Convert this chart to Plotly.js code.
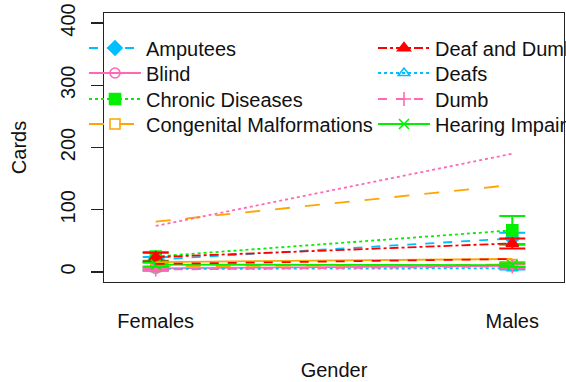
<!DOCTYPE html>
<html>
<head>
<meta charset="utf-8">
<script src="https://cdn.plot.ly/plotly-3.0.1.min.js"></script>
<style>
  html, body { margin: 0; padding: 0; overflow: hidden; background: #fff; }
  #chart { width: 620px; height: 382px; }
</style>
</head>
<body>
<div id="chart"></div>
<script>
// Mean number of cards per gender, one line per disability group
const genders = ['Females', 'Males'];

const groups = [
  'Amputees', 'Blind', 'Chronic Diseases', 'Congenital Malformations',
  'Deaf and Dumb', 'Deafs', 'Dumb', 'Hearing Impaired',
  'Mental Disabilities', 'Multiple Disabilities', 'Physical Disabilities', 'Visual Impairments'
];

const femaleCards = [20, 6, 25, 9, 24, 5, 4, 12, 16, 13, 81, 74];
const maleCards   = [54, 10, 67, 12, 46, 6, 9, 11, 21, 21, 140, 190];

// half-width of the confidence interval (only the first eight groups have one)
const femaleCI = [4, 2, 7, 7, 7, 2, 2, 3];
const maleCI   = [9, 3, 23, 4, 8, 2, 3, 3];

const colors  = ['#00BFFF', '#FF69B4', '#00F000', '#FFA500', '#FF0000', '#00BFFF', '#FF69B4', '#00F000',
                 '#FFA500', '#FF0000', '#FFA500', '#FF69B4'];
const dashes  = ['dash', 'solid', 'dot', 'longdash', 'dashdot', 'dot', 'dash', 'solid',
                 'solid', 'dash', 'longdash', 'dot'];
const symbols = ['diamond', 'circle-open', 'square', 'square-open', 'triangle-up', 'triangle-up-open',
                 'cross-thin-open', 'x-thin-open'];

const FONT = '"Liberation Sans", Arial, sans-serif';

const traces = groups.map((name, i) => {
  const withCI = i < femaleCI.length;
  const legendKey = i === 0 ? 'legend' : 'legend' + (i + 1);
  const t = {
    type: 'scatter',
    x: genders,
    y: [femaleCards[i], maleCards[i]],
    name: name,
    mode: withCI ? 'lines+markers' : 'lines',
    line: { color: colors[i], dash: dashes[i], width: 1.8 },
    showlegend: withCI,
    hoverinfo: 'skip'
  };
  if (withCI) {
    t.legend = legendKey;
    t.marker = {
      symbol: symbols[i], size: symbols[i].indexOf('open') >= 0 ? 10 : 11,
      color: colors[i], line: { color: colors[i], width: 1.6 }
    };
    t.error_y = {
      type: 'data', array: [femaleCI[i], maleCI[i]], visible: true,
      color: colors[i], thickness: 2, width: 13
    };
  }
  return t;
});

// plot area in pixels: left 104, right 564, top 13, bottom 282
const plotL = 104, plotW = 460, plotB = 282, plotH = 269;
const colLeft = [84, 373];
const rowMid = [48, 73, 99, 124];

const layout = {
  width: 620, height: 382,
  margin: { l: plotL, r: 620 - plotL - plotW, t: 13, b: 382 - plotB, autoexpand: false },
  paper_bgcolor: '#fff', plot_bgcolor: '#fff',
  font: { family: FONT, size: 20, color: '#000' },
  showlegend: true,
  xaxis: {
    type: 'category', range: [-0.145, 1.145],
    showgrid: false, zeroline: false,
    showline: true, mirror: true, linecolor: '#222', linewidth: 1.2,
    ticks: '', ticklabelstandoff: 21,
    tickfont: { family: FONT, size: 20, color: '#111' },
    title: { text: 'Gender', standoff: 31, font: { family: FONT, size: 20, color: '#111' } }
  },
  yaxis: {
    range: [-16, 416], tickvals: [0, 100, 200, 300, 400],
    showgrid: false, zeroline: false,
    showline: true, mirror: true, linecolor: '#222', linewidth: 1.2,
    ticks: 'outside', ticklen: 12, tickwidth: 1.2, tickcolor: '#222',
    tickangle: -90, ticklabelstandoff: 8,
    tickfont: { family: FONT, size: 20, color: '#111' },
    title: { text: 'Cards', standoff: 24, font: { family: FONT, size: 20, color: '#111' } }
  }
};

// one legend box per entry, laid out in two columns of four rows
for (let i = 0; i < femaleCI.length; i++) {
  const key = i === 0 ? 'legend' : 'legend' + (i + 1);
  const col = Math.floor(i / 4), row = i % 4;
  layout[key] = {
    x: (colLeft[col] - plotL) / plotW,
    y: (plotB - rowMid[row]) / plotH,
    xanchor: 'left', yanchor: 'middle',
    bgcolor: 'rgba(0,0,0,0)', borderwidth: 0,
    itemwidth: 52, itemclick: false,
    font: { family: FONT, size: 20, color: '#111' }
  };
}

Plotly.newPlot('chart', traces, layout, { staticPlot: true, displayModeBar: false });
</script>
</body>
</html>
